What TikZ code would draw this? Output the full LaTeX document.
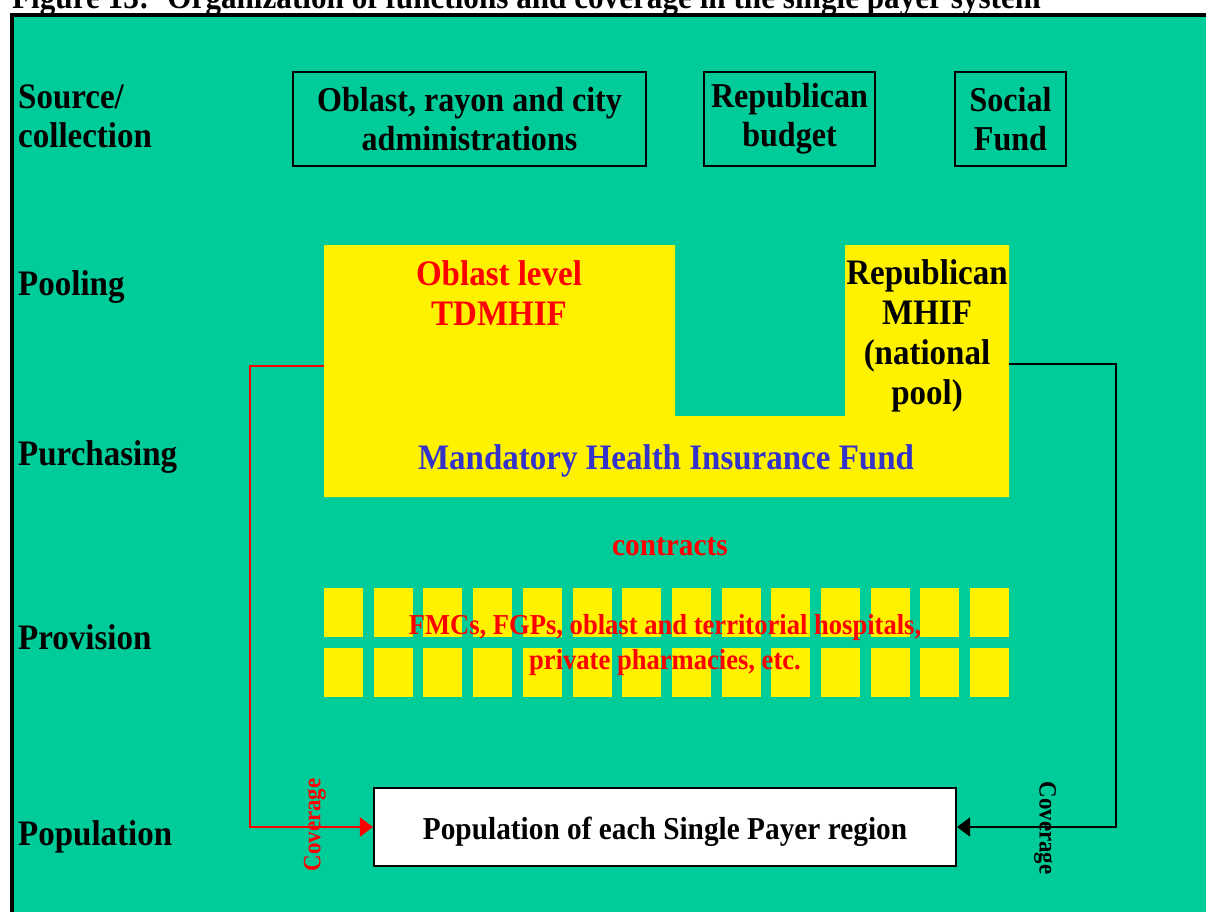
\documentclass[tikz,border=0pt]{standalone}
\usepackage{fontspec}
\setmainfont{Liberation Serif}[FakeStretch=0.92]
\usetikzlibrary{arrows.meta}

\definecolor{fundgreen}{RGB}{0,204,153}
\definecolor{fundblue}{RGB}{51,51,204}

\tikzset{
  rowlabel/.style={anchor=west,align=left,inner sep=0pt,font=\fontsize{36}{39}\selectfont\bfseries},
  srcbox/.style={draw=black,line width=1.5bp,align=center,inner sep=0pt,minimum height=94bp,font=\fontsize{35}{39}\selectfont\bfseries},
  fundtext/.style={align=center,inner sep=0pt,font=\fontsize{36}{40}\selectfont\bfseries},
  covline/.style={line width=1.5bp,-{Triangle[length=13bp,width=19bp]}},
  covtext/.style={inner sep=0pt,font=\fontsize{25}{26}\selectfont\bfseries},
}

\begin{document}
\begin{tikzpicture}[x=1bp,y=-1bp]
				\useasboundingbox (0,0) rectangle (1206,912);
				
				% Grid of provider blocks
				\def\cellw{39}      %width of one block
				\def\cellh{49}      %height of one block
				\def\pitch{49.7}    %distance between blocks
				
				% Title, cut by the top of the page
				\node[anchor=base west,inner sep=0pt,font=\fontsize{34}{36}\selectfont\bfseries] (title) at (12,8.5) {Figure 13:~ Organization of functions and coverage in the single payer system};
				
				% Green panel with its black frame
				\draw[fill=fundgreen,line width=4bp] (12,15) rectangle (1240,950);
				
				% Function levels on the left
				\node[rowlabel] (source) at (18,116) {Source/\\collection};
				\node[rowlabel] (pooling) at (18,287) {Pooling};
				\node[rowlabel] (purchasing) at (18,457) {Purchasing};
				\node[rowlabel] (provision) at (18,637) {Provision};
				\node[rowlabel] (population) at (18,837) {Population};
				
				% Sources of funds
				\node[srcbox,minimum width=353bp] (admin) at (469.5,119) {Oblast, rayon and city\\administrations};
				\node[srcbox,minimum width=171bp] (repbudget) at (789.5,119) {Republican\\budget};
				\node[srcbox,minimum width=111bp] (social) at (1010.5,119) {Social\\Fund};
				
				% Mandatory Health Insurance Fund block (two pools on top)
				\fill[yellow] (324,245) -- (675,245) -- (675,416) -- (845,416) -- (845,245) -- (1009,245) -- (1009,497) -- (324,497) -- cycle;
				\coordinate (tdm-w) at (324,366);
				\coordinate (rep-e) at (1009,364);
				\node[fundtext,red] (tdmhif) at (499,293) {Oblast level\\TDMHIF};
				\node[fundtext] (repmhif) at (927,336) {Republican\\MHIF\\(national\\pool)};
				\node[fundtext,text=fundblue] (mhif) at (666,461) {Mandatory Health Insurance Fund};
				
				\node[fundtext,red,font=\fontsize{32}{34}\selectfont\bfseries] (contracts) at (670,547) {contracts};
				
				% Providers
				\foreach \i in {0,...,13}
				  \foreach \y in {588,648}
				    \fill[yellow] ({324+\pitch*\i},\y) rectangle ++(\cellw,\cellh);
				\node[fundtext,red,font=\fontsize{29}{35}\selectfont\bfseries] (providers) at (665,645) {FMCs, FGPs, oblast and territorial hospitals,\\private pharmacies, etc.};
				
				% Population covered
				\node[draw=black,line width=2bp,fill=white,minimum width=582bp,minimum height=78bp,inner sep=0pt,text height=24bp,text depth=0pt,font=\fontsize{32}{34}\selectfont\bfseries] (pop) at (665,827) {Population of each Single Payer region};
				
				% Coverage lines
				\coordinate (lbend) at (250,366);
				\coordinate (rbend) at (1116,364);
				\draw[covline,red] (tdm-w) -- (lbend) |- (pop.west);
				\draw[covline] (rep-e) -- (rbend) |- (pop.east);
				\node[covtext,red,rotate=90] (covleft) at (315,825) {Coverage};
				\node[covtext,rotate=-90] (covright) at (1045,828) {Coverage};
				
\end{tikzpicture}
\end{document}
